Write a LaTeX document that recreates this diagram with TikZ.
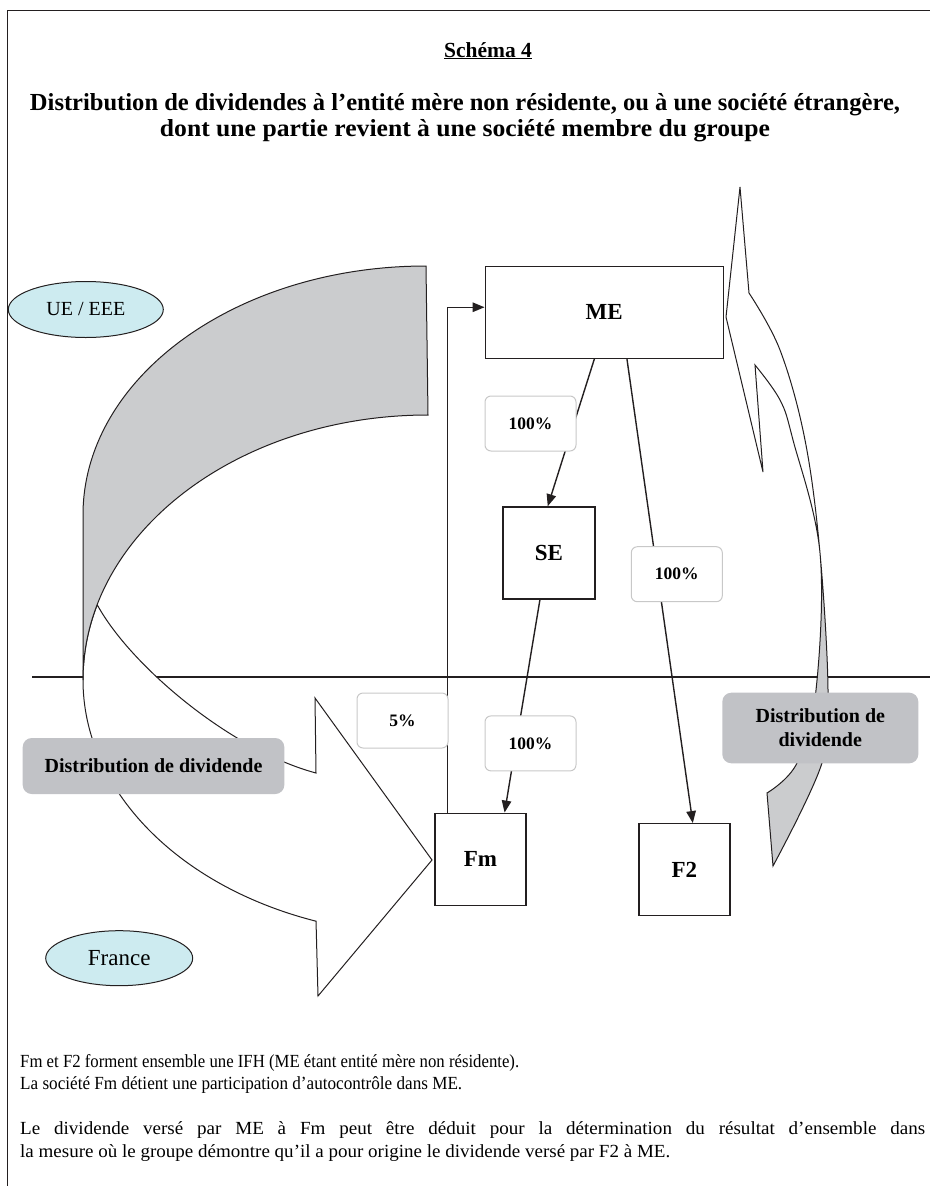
\documentclass[tikz,border=0pt]{standalone}
\usepackage{graphicx}
\usepackage{fontspec}
\setmainfont{Liberation Serif}
\usetikzlibrary{arrows.meta,calc,shapes.geometric}

\definecolor{ink}{HTML}{231F20}
\definecolor{bandgray}{HTML}{CBCCCE}
\definecolor{tagfill}{HTML}{C1C2C6}
\definecolor{zonefill}{HTML}{CDEBF0}
\definecolor{tagline}{HTML}{C8C8C8}

% outline of the curved arrow on the right (dividend going up to ME)
\newcommand\upribbon{(740,-187) -- (749,-293)
  -- plot[smooth,tension=0.6] coordinates {(749,-293) (780,-350) (805,-440) (820,-553) (828,-690) (822,-763) (773,-866)}
  -- (767,-793)
  -- plot[smooth,tension=0.6] coordinates {(767,-793) (797,-763) (816,-690) (820,-553) (793,-440) (780,-400) (755,-365)}
  -- (763,-472) -- (726,-317) -- cycle}

% a line of text set to a given width, keeping its height
\newcommand\fitline[2]{\resizebox{#1}{\height}{#2}}

\begin{document}
\begin{tikzpicture}[x=1pt,y=1pt,
  entity/.style={draw=ink, line width=1.3pt, fill=white, inner sep=0pt,
    font=\fontsize{23}{26}\selectfont\bfseries},
  share/.style={draw=tagline, line width=1pt, fill=white, rounded corners=6pt,
    inner sep=0pt, minimum width=91pt, minimum height=55pt,
    font=\fontsize{17.5}{20}\selectfont\bfseries},
  flowtag/.style={fill=tagfill, rounded corners=9pt, inner sep=0pt, align=center,
    font=\fontsize{20}{24}\selectfont\bfseries},
  zone/.style={ellipse, draw=ink, line width=1pt, fill=zonefill, inner sep=0pt},
  link/.style={draw=ink, line width=1.4pt, -{Triangle[length=12pt,width=9.5pt]}},
  outline/.style={draw=ink, line width=1pt},
  bodytext/.style={anchor=base west, inner sep=0pt, font=\fontsize{18.5}{22}\selectfont},
  heading/.style={anchor=base, inner sep=0pt, font=\fontsize{24.5}{28}\selectfont\bfseries},
]
\useasboundingbox (0,0) rectangle (930,-1186);

% frame
\draw[ink, line width=1.5pt] (7.3,-1186) -- (7.3,-10.7) -- (930,-10.7);

% headings
\node[anchor=base, inner sep=0pt, font=\fontsize{21.5}{26}\selectfont\bfseries] (schema) at (488,-57) {\underline{Schéma 4}};
\node[heading] (title1) at (465,-110)
  {\fitline{870pt}{Distribution de dividendes à l’entité mère non résidente, ou à une société étrangère,}};
\node[heading] (title2) at (465,-136)
  {\fitline{610pt}{dont une partie revient à une société membre du groupe}};

% border between EU/EEA and France
\draw[ink, line width=1.6pt] (32,-677) -- (930,-677);

% left curved arrow: white front part with its head
\coordinate (fold) at ($(428,-680)+(163.5:345pt and 265pt)$);
\filldraw[outline, fill=white] (fold)
  arc[start angle=163.5, end angle=180, x radius=345pt, y radius=265pt]
  arc[start angle=180, end angle=251.06, x radius=345pt, y radius=255pt]
  -- (318,-996) -- (432,-860) -- (315,-698) -- (316,-773)
  .. controls (230,-750) and (130,-665) .. (fold) -- cycle;
% left curved arrow: grey back part
\filldraw[outline, fill=bandgray] (426,-266)
  arc[start angle=90, end angle=180, x radius=343pt, y radius=249pt]
  -- (83,-680)
  arc[start angle=180, end angle=90, x radius=345pt, y radius=265pt] -- cycle;

% right curved arrow
\fill[white] \upribbon;
\begin{scope}
  \clip (700,-553) rectangle (900,-900);
  \fill[bandgray] \upribbon;
\end{scope}
\draw[outline] \upribbon;

% zones
\node[zone, minimum width=155pt, minimum height=56pt, font=\fontsize{20}{24}\selectfont] (ue) at (85.8,-309.5) {UE / EEE};
\node[zone, minimum width=147pt, minimum height=55pt, font=\fontsize{23}{26}\selectfont] (fr) at (119.2,-958.2) {France};

% companies
\node[entity, minimum width=238pt, minimum height=92pt] (ME) at (604.2,-312.2) {ME};
\node[entity, minimum width=92pt, minimum height=92pt] (SE) at (548.9,-552.9) {SE};
\node[entity, minimum width=91pt, minimum height=92pt] (Fm) at (480.4,-859.2) {Fm};
\node[entity, minimum width=91pt, minimum height=92pt] (F2) at (684.4,-869.7) {F2};

% holdings
\draw[link] ($(ME.south west)!0.459!(ME.south east)$) -- ($(SE.north west)!0.4875!(SE.north east)$);
\draw[link] ($(ME.south west)!0.595!(ME.south east)$) -- ($(F2.north west)!0.591!(F2.north east)$);
\draw[link] ($(SE.south west)!0.404!(SE.south east)$) -- ($(Fm.north west)!0.762!(Fm.north east)$);
\draw[link] ($(Fm.north west)!0.146!(Fm.north east)$) |- ($(ME.north west)!0.447!(ME.south west)$);

% shares
\node[share] (pSE) at (530.5,-423.5) {100\%};
\node[share] (pF2) at (676.8,-574.2) {100\%};
\node[share] (pFm) at (530.5,-743.4) {100\%};
\node[share] (pME) at (402.5,-720.5) {5\%};

% dividend flows
\node[flowtag, minimum width=261.6pt, minimum height=56pt] (divL) at (153.5,-766) {Distribution de dividende};
\node[flowtag, minimum width=196pt, minimum height=70.6pt] (divR) at (820.3,-728) {Distribution de\\dividende};

% notes
\node[bodytext] (n1) at (20,-1067) {\fitline{499pt}{Fm et F2 forment ensemble une IFH (ME étant entité mère non résidente).}};
\node[bodytext] (n2) at (20,-1089) {\fitline{442pt}{La société Fm détient une participation d’autocontrôle dans ME.}};
\node[bodytext] (n3) at (20,-1134) {\addfontfeature{FakeStretch=1.03}\makebox[905pt][s]{Le dividende versé par ME à Fm peut être déduit pour la détermination du résultat d’ensemble dans}};
\node[bodytext] (n4) at (20,-1157) {\fitline{650pt}{la mesure où le groupe démontre qu’il a pour origine le dividende versé par F2 à ME.}};
\end{tikzpicture}
\end{document}
